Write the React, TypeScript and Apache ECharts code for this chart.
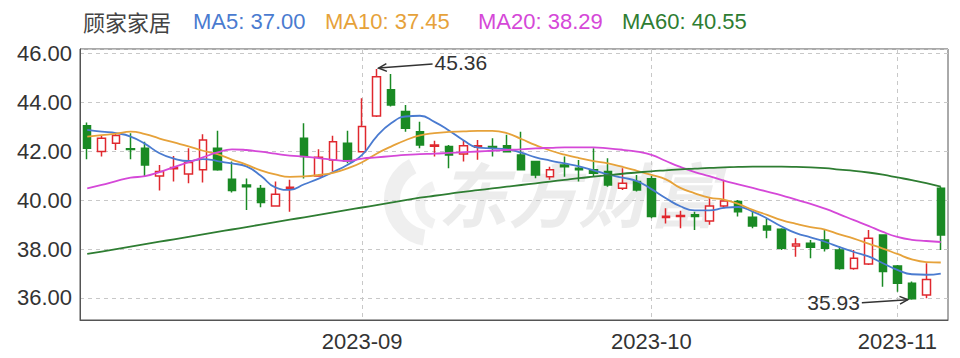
import React, { useEffect, useRef } from "react";
import * as echarts from "echarts";

const dates = [
  "2023-08-07", "2023-08-08", "2023-08-09", "2023-08-10", "2023-08-11",
  "2023-08-14", "2023-08-15", "2023-08-16", "2023-08-17", "2023-08-18",
  "2023-08-21", "2023-08-22", "2023-08-23", "2023-08-24", "2023-08-25",
  "2023-08-28", "2023-08-29", "2023-08-30", "2023-08-31",
  "2023-09-01", "2023-09-04", "2023-09-05", "2023-09-06", "2023-09-07", "2023-09-08",
  "2023-09-11", "2023-09-12", "2023-09-13", "2023-09-14", "2023-09-15",
  "2023-09-18", "2023-09-19", "2023-09-20", "2023-09-21", "2023-09-22",
  "2023-09-25", "2023-09-26", "2023-09-27", "2023-09-28",
  "2023-10-09", "2023-10-10", "2023-10-11", "2023-10-12", "2023-10-13",
  "2023-10-16", "2023-10-17", "2023-10-18", "2023-10-19", "2023-10-20",
  "2023-10-23", "2023-10-24", "2023-10-25", "2023-10-26", "2023-10-27",
  "2023-10-30", "2023-10-31",
  "2023-11-01", "2023-11-02", "2023-11-03", "2023-11-06",
];

const opens = [
  43.04, 41.99, 42.33, 42.10, 42.12, 40.99, 41.28, 41.07, 41.24, 42.12,
  40.85, 40.62, 40.48, 39.76, 40.47, 42.53, 40.99, 41.64, 42.33, 41.98,
  43.44, 44.51, 43.62, 42.80, 42.20, 42.19, 41.89, 42.16, 42.19, 42.22,
  41.85, 41.58, 40.96, 41.44, 41.30, 41.24, 41.17, 40.49, 40.76, 40.87,
  39.29, 39.33, 39.40, 39.15, 39.76, 39.94, 39.30, 38.94, 38.81, 38.13,
  38.24, 38.37, 37.96, 37.21, 37.39, 38.58, 37.31, 36.60, 36.12, 40.49,
];
const closes = [
  42.12, 42.53, 42.64, 42.07, 41.44, 41.17, 41.33, 41.54, 42.46, 41.24,
  40.39, 40.55, 39.90, 40.24, 40.53, 41.78, 41.75, 42.39, 41.60, 43.01,
  45.05, 43.89, 42.94, 42.26, 42.26, 41.85, 42.22, 42.22, 42.15, 41.98,
  41.24, 41.03, 41.24, 41.37, 41.24, 41.10, 40.62, 40.69, 40.42, 39.33,
  39.34, 39.37, 39.33, 39.76, 39.97, 39.53, 38.94, 38.78, 38.03, 38.21,
  38.07, 38.03, 37.21, 37.62, 38.44, 37.08, 36.60, 35.97, 36.76, 38.58,
];
const lows = [
  41.67, 41.78, 42.05, 41.67, 40.99, 40.39, 40.76, 40.69, 40.72, 41.20,
  40.31, 39.60, 39.71, 39.74, 39.53, 40.89, 40.96, 41.17, 41.51, 41.95,
  43.40, 43.83, 42.80, 42.12, 41.78, 41.30, 41.58, 41.65, 41.78, 41.98,
  41.24, 40.90, 40.83, 40.96, 40.76, 40.96, 40.55, 40.42, 40.35, 39.26,
  39.05, 38.85, 38.78, 38.99, 39.67, 39.33, 38.85, 38.44, 37.96, 37.69,
  37.62, 37.90, 37.15, 37.15, 37.35, 36.46, 36.26, 35.93, 35.99, 37.96,
];
const highs = [
  43.17, 42.63, 42.74, 42.74, 42.39, 41.44, 41.81, 42.12, 42.69, 42.84,
  41.58, 40.89, 40.62, 40.76, 40.83, 43.14, 42.08, 42.63, 42.84, 44.17,
  45.36, 45.16, 43.89, 43.21, 42.43, 42.26, 42.46, 42.46, 42.53, 42.67,
  42.80, 41.60, 41.37, 41.78, 41.64, 42.12, 41.71, 41.30, 41.03, 41.00,
  39.67, 39.57, 39.53, 40.08, 40.83, 40.01, 39.53, 39.26, 38.85, 38.44,
  38.37, 38.78, 38.10, 37.96, 38.78, 38.60, 37.35, 36.67, 37.42, 40.55,
];

const ma5 = [
  42.87, 42.80, 42.74, 42.60, 42.30, 41.92, 41.70, 41.60, 41.68, 41.60,
  41.50, 41.38, 41.00, 40.52, 40.42, 40.65, 40.88, 41.15, 41.45, 41.85,
  42.60, 43.14, 43.42, 43.45, 43.20, 42.85, 42.45, 42.15, 42.12, 42.08,
  41.94, 41.75, 41.62, 41.50, 41.38, 41.22, 41.05, 40.92, 40.78, 40.45,
  40.08, 39.75, 39.58, 39.58, 39.68, 39.72, 39.53, 39.25, 38.92, 38.65,
  38.48, 38.30, 38.08, 37.88, 37.70, 37.42, 37.15, 36.97, 36.95, 37.00,
];
const ma10 = [
  42.60, 42.66, 42.72, 42.80, 42.70, 42.52, 42.36, 42.20, 42.02, 41.88,
  41.66, 41.45, 41.22, 41.05, 40.95, 40.97, 41.03, 41.12, 41.30, 41.55,
  41.90, 42.19, 42.45, 42.65, 42.74, 42.79, 42.81, 42.83, 42.83, 42.74,
  42.50, 42.25, 42.03, 41.86, 41.72, 41.60, 41.50, 41.36, 41.20, 41.03,
  40.85, 40.50, 40.28, 40.10, 40.02, 39.85, 39.60, 39.40, 39.18, 39.03,
  38.90, 38.80, 38.60, 38.43, 38.22, 38.02, 37.80, 37.58, 37.47, 37.45,
];
const ma20 = [
  40.48, 40.62, 40.78, 40.92, 40.98, 41.15, 41.35, 41.55, 41.75, 41.95,
  42.08, 42.05, 41.98, 41.90, 41.82, 41.78, 41.72, 41.65, 41.60, 41.70,
  41.75, 41.80, 41.85, 41.88, 41.90, 41.93, 41.96, 41.99, 42.02, 42.05,
  42.08, 42.12, 42.14, 42.16, 42.16, 42.16, 42.12, 42.06, 41.98, 41.85,
  41.60, 41.36, 41.15, 40.98, 40.80, 40.65, 40.50, 40.35, 40.20, 40.02,
  39.85, 39.65, 39.42, 39.18, 38.95, 38.70, 38.50, 38.38, 38.33, 38.29,
];
const ma60 = [
  37.80, 37.90, 38.00, 38.10, 38.20, 38.30, 38.40, 38.50, 38.60, 38.70,
  38.80, 38.90, 39.00, 39.10, 39.20, 39.30, 39.40, 39.50, 39.60, 39.70,
  39.80, 39.90, 40.00, 40.10, 40.18, 40.26, 40.34, 40.41, 40.48, 40.55,
  40.62, 40.69, 40.76, 40.83, 40.90, 40.96, 41.02, 41.08, 41.13, 41.18,
  41.22, 41.26, 41.29, 41.32, 41.34, 41.36, 41.37, 41.37, 41.37, 41.36,
  41.34, 41.31, 41.25, 41.20, 41.13, 41.04, 40.93, 40.82, 40.70, 40.55,
];

const stockName = "顾家家居";
const maNames = ["MA5", "MA10", "MA20", "MA60"];
const maColors = ["#4a7bd0", "#e6a23a", "#d548d8", "#2e7d32"];
const maSeries = [ma5, ma10, ma20, ma60];

const UP = "#e0282e";
const DOWN = "#1a8a24";
const FONT = "'Liberation Sans', Arial, sans-serif";
const CJK = "'Noto Sans CJK SC', sans-serif";

export default function App() {
  const ref = useRef<HTMLDivElement>(null);
  useEffect(() => {
    if (!ref.current) return;
    const chart = echarts.init(ref.current, null, { renderer: "svg" });
    const candles = dates.map((_, i) => [opens[i], closes[i], lows[i], highs[i]]);
    const isMonthStart = (idx: number) =>
      idx > 0 && dates[idx].slice(0, 7) !== dates[idx - 1].slice(0, 7);

    const headerTexts: any[] = [
      {
        type: "text",
        id: "name",
        left: 83,
        top: 10,
        style: { text: stockName, fill: "#444", font: `22px ${CJK}` },
      },
    ];
    const legendX = [193, 325, 478, 622];
    maNames.forEach((n, k) => {
      const arr = maSeries[k];
      headerTexts.push({
        type: "text",
        id: "lg" + k,
        left: legendX[k],
        top: 10,
        style: {
          text: `${n}: ${arr[arr.length - 1].toFixed(2)}`,
          fill: maColors[k],
          font: `22px ${FONT}`,
        },
      });
    });

    chart.setOption({
      animation: false,
      backgroundColor: "#ffffff",
      grid: {
        left: 80,
        right: 12,
        top: 49,
        bottom: 38,
        show: true,
        borderColor: "#555",
        borderWidth: 1,
        backgroundColor: "transparent",
      },
      xAxis: {
        type: "category",
        data: dates,
        boundaryGap: true,
        axisLine: { show: true, lineStyle: { color: "#555" } },
        axisTick: { show: false },
        axisLabel: {
          interval: (idx: number) => isMonthStart(idx),
          formatter: (v: string) => v.slice(0, 7),
          color: "#333",
          fontSize: 22,
          fontFamily: FONT,
          margin: 10,
        },
        splitLine: {
          show: true,
          interval: (idx: number) => isMonthStart(idx),
          alignWithLabel: true,
          lineStyle: { color: "#c8c8c8", type: [4, 4], width: 1 },
        },
      },
      yAxis: {
        type: "value",
        min: 35.1,
        max: 46.18,
        splitNumber: 5,
        axisLine: { show: true, lineStyle: { color: "#555" } },
        axisTick: { show: false },
        axisLabel: {
          showMinLabel: false,
          showMaxLabel: false,
          formatter: (v: number) => v.toFixed(2),
          color: "#333",
          fontSize: 22,
          fontFamily: FONT,
          margin: 8,
        },
        splitLine: {
          show: true,
          lineStyle: { color: "#c8c8c8", type: [4, 4], width: 1 },
        },
      },
      graphic: [
        {
          type: "arc",
          id: "logo1",
          silent: true,
          shape: { cx: 430, cy: 200, r: 38, startAngle: Math.PI * 0.55, endAngle: Math.PI * 1.35 },
          style: { stroke: "rgba(120,120,120,0.12)", lineWidth: 16, fill: "none" },
        },
        {
          type: "arc",
          id: "logo2",
          silent: true,
          shape: { cx: 440, cy: 205, r: 20, startAngle: Math.PI * 0.6, endAngle: Math.PI * 1.4 },
          style: { stroke: "rgba(120,120,120,0.10)", lineWidth: 10, fill: "none" },
        },
        {
          type: "text",
          id: "wm",
          left: 438,
          top: 156,
          silent: true,
          style: {
            text: "东方财富",
            fill: "rgba(120,120,120,0.14)",
            font: `italic bold 70px ${CJK}`,
          },
        },
        ...headerTexts,
      ],
      series: [
        {
          type: "candlestick",
          data: candles,
          barWidth: 8,
          itemStyle: {
            color: "#ffffff",
            color0: DOWN,
            borderColor: UP,
            borderColor0: DOWN,
            borderWidth: 1.5,
          },
        },
        ...maSeries.map((arr, k) => ({
          type: "line",
          name: maNames[k],
          data: arr,
          smooth: true,
          showSymbol: false,
          lineStyle: { color: maColors[k], width: 1.8 },
          z: 3,
        })),
      ],
    });

    // Annotations for highest high and lowest low
    let hiIdx = 0;
    let loIdx = 0;
    highs.forEach((v, i) => { if (v > highs[hiIdx]) hiIdx = i; });
    lows.forEach((v, i) => { if (v < lows[loIdx]) loIdx = i; });
    const pHi = chart.convertToPixel({ xAxisIndex: 0, yAxisIndex: 0 }, [hiIdx, highs[hiIdx]]) as number[];
    const pLo = chart.convertToPixel({ xAxisIndex: 0, yAxisIndex: 0 }, [loIdx, lows[loIdx]]) as number[];

    const arrow = (id: string, x1: number, y1: number, x2: number, y2: number) => {
      const ang = Math.atan2(y2 - y1, x2 - x1);
      const len = 9;
      const spread = 0.45;
      return [
        {
          type: "line",
          id: id + "l",
          shape: { x1, y1, x2, y2 },
          style: { stroke: "#333", lineWidth: 1.5 },
          z: 10,
        },
        {
          type: "polyline",
          id: id + "h",
          shape: {
            points: [
              [x2 - len * Math.cos(ang - spread), y2 - len * Math.sin(ang - spread)],
              [x2, y2],
              [x2 - len * Math.cos(ang + spread), y2 - len * Math.sin(ang + spread)],
            ],
          },
          style: { stroke: "#333", lineWidth: 1.5, fill: "none" },
          z: 10,
        },
      ];
    };

    chart.setOption({
      graphic: [
        ...arrow("ah", pHi[0] + 56, pHi[1] - 5, pHi[0] + 2, pHi[1] - 1),
        {
          type: "text",
          id: "th",
          x: pHi[0] + 58,
          y: pHi[1] - 7,
          style: {
            text: highs[hiIdx].toFixed(2),
            fill: "#333",
            font: `21px ${FONT}`,
            align: "left",
            verticalAlign: "middle",
          },
          z: 10,
        },
        ...arrow("al", pLo[0] - 50, pLo[1] + 3, pLo[0] - 4, pLo[1]),
        {
          type: "text",
          id: "tl",
          x: pLo[0] - 52,
          y: pLo[1] + 3,
          style: {
            text: lows[loIdx].toFixed(2),
            fill: "#333",
            font: `21px ${FONT}`,
            align: "right",
            verticalAlign: "middle",
          },
          z: 10,
        },
      ],
    });

    return () => chart.dispose();
  }, []);
  return (
    <div
      ref={ref}
      style={{ position: "fixed", left: 0, top: 0, width: 960, height: 358 }}
    />
  );
}
